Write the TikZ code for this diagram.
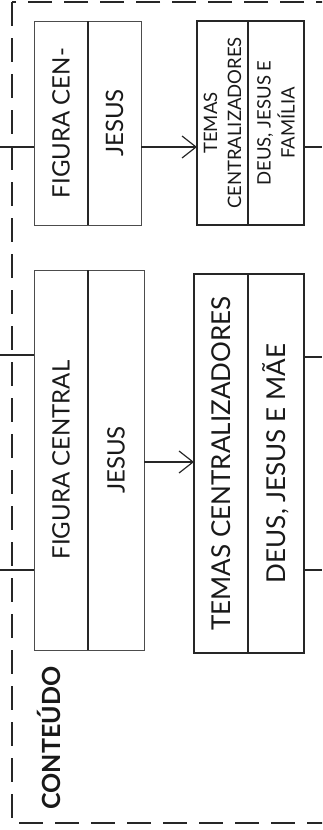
\documentclass[tikz,border=0pt]{standalone}
\usepackage{fontspec}
\setmainfont{Lato}
\usetikzlibrary{arrows.meta}
\begin{document}
\begin{tikzpicture}[x=1pt,y=-1pt,
  col/.style={rectangle, inner sep=0pt, outer sep=0pt},
  boxthin/.style={col, draw=black!70, line width=0.9pt},
  boxthick/.style={col, draw=black!85, line width=2.2pt},
  divthin/.style={draw=black!85, line width=1.8pt},
  lbl/.style={rotate=90, inner sep=0pt, align=center, text=black!90},
  big/.style={lbl, font=\fontsize{24}{28}\selectfont},
  bigger/.style={lbl, font=\fontsize{26}{30}\selectfont},
  small/.style={lbl, font=\fontsize{18.5}{24}\selectfont},
  conn/.style={draw=black!85, line width=1.5pt},
  arr/.style={conn, -{Straight Barb[length=14pt,width=22pt,line width=1.2pt]}},
  border/.style={draw=black!85, line width=2pt, dash pattern=on 24pt off 12pt}]
\clip (0,0) rectangle (322,830);
% dashed frame
\draw[border] (12,2) rectangle (345,823);
% ---- top row
\node[boxthin, minimum width=54pt, minimum height=204pt] (t1a) at (61,123) {};
\node[boxthin, minimum width=53pt, minimum height=204pt] (t1b) at (114.5,123) {};
\draw[divthin] (t1a.north east) -- (t1a.south east);
\node[big] (t1at) at (t1a) {FIGURA CEN-};
\node[big] (t1bt) at (t1b) {JESUS};
\node[boxthick, minimum width=51pt, minimum height=204pt] (t2a) at (222.5,123) {};
\node[boxthick, minimum width=56pt, minimum height=204pt] (t2b) at (276,123) {};
\node[small] (t2at) at (t2a) {TEMAS\\CENTRALIZADORES};
\node[small] (t2bt) at (t2b) {DEUS, JESUS E\\FAMÍLIA};
% ---- bottom row
\node[boxthin, minimum width=54pt, minimum height=380pt] (b1a) at (61,460) {};
\node[boxthin, minimum width=56pt, minimum height=380pt] (b1b) at (116,460) {};
\draw[divthin] (b1a.north east) -- (b1a.south east);
\node[big] (b1at) at (b1a) {FIGURA CENTRAL};
\node[big] (b1bt) at (b1b) {JESUS};
\node[boxthick, minimum width=54pt, minimum height=379pt] (b2a) at (221,463.5) {};
\node[boxthick, minimum width=56pt, minimum height=379pt] (b2b) at (276,463.5) {};
\node[bigger] (b2at) at (b2a) {TEMAS CENTRALIZADORES};
\node[bigger] (b2bt) at (b2b) {DEUS, JESUS E MÃE};
% label
\node[lbl, font=\bfseries\fontsize{25}{28}\selectfont] (cont) at (49,738) {CONTEÚDO};
% ---- connectors
\coordinate (lt) at (0,147);
\coordinate (rt) at (322,147);
\draw[conn] (lt) -- (t1a.west |- lt);
\draw[arr] (t1b.east |- lt) -- (t2a.west |- lt);
\draw[conn] (t2b.east |- rt) -- (rt);
\coordinate (lb1) at (0,355);
\coordinate (lb2) at (0,570);
\coordinate (ab) at (0,462);
\coordinate (rb1) at (322,357);
\coordinate (rb2) at (322,570);
\draw[conn] (lb1) -- (b1a.west |- lb1);
\draw[conn] (lb2) -- (b1a.west |- lb2);
\draw[arr] (b1b.east |- ab) -- (b2a.west |- ab);
\draw[conn] (b2b.east |- rb1) -- (rb1);
\draw[conn] (b2b.east |- rb2) -- (rb2);
\end{tikzpicture}
\end{document}
